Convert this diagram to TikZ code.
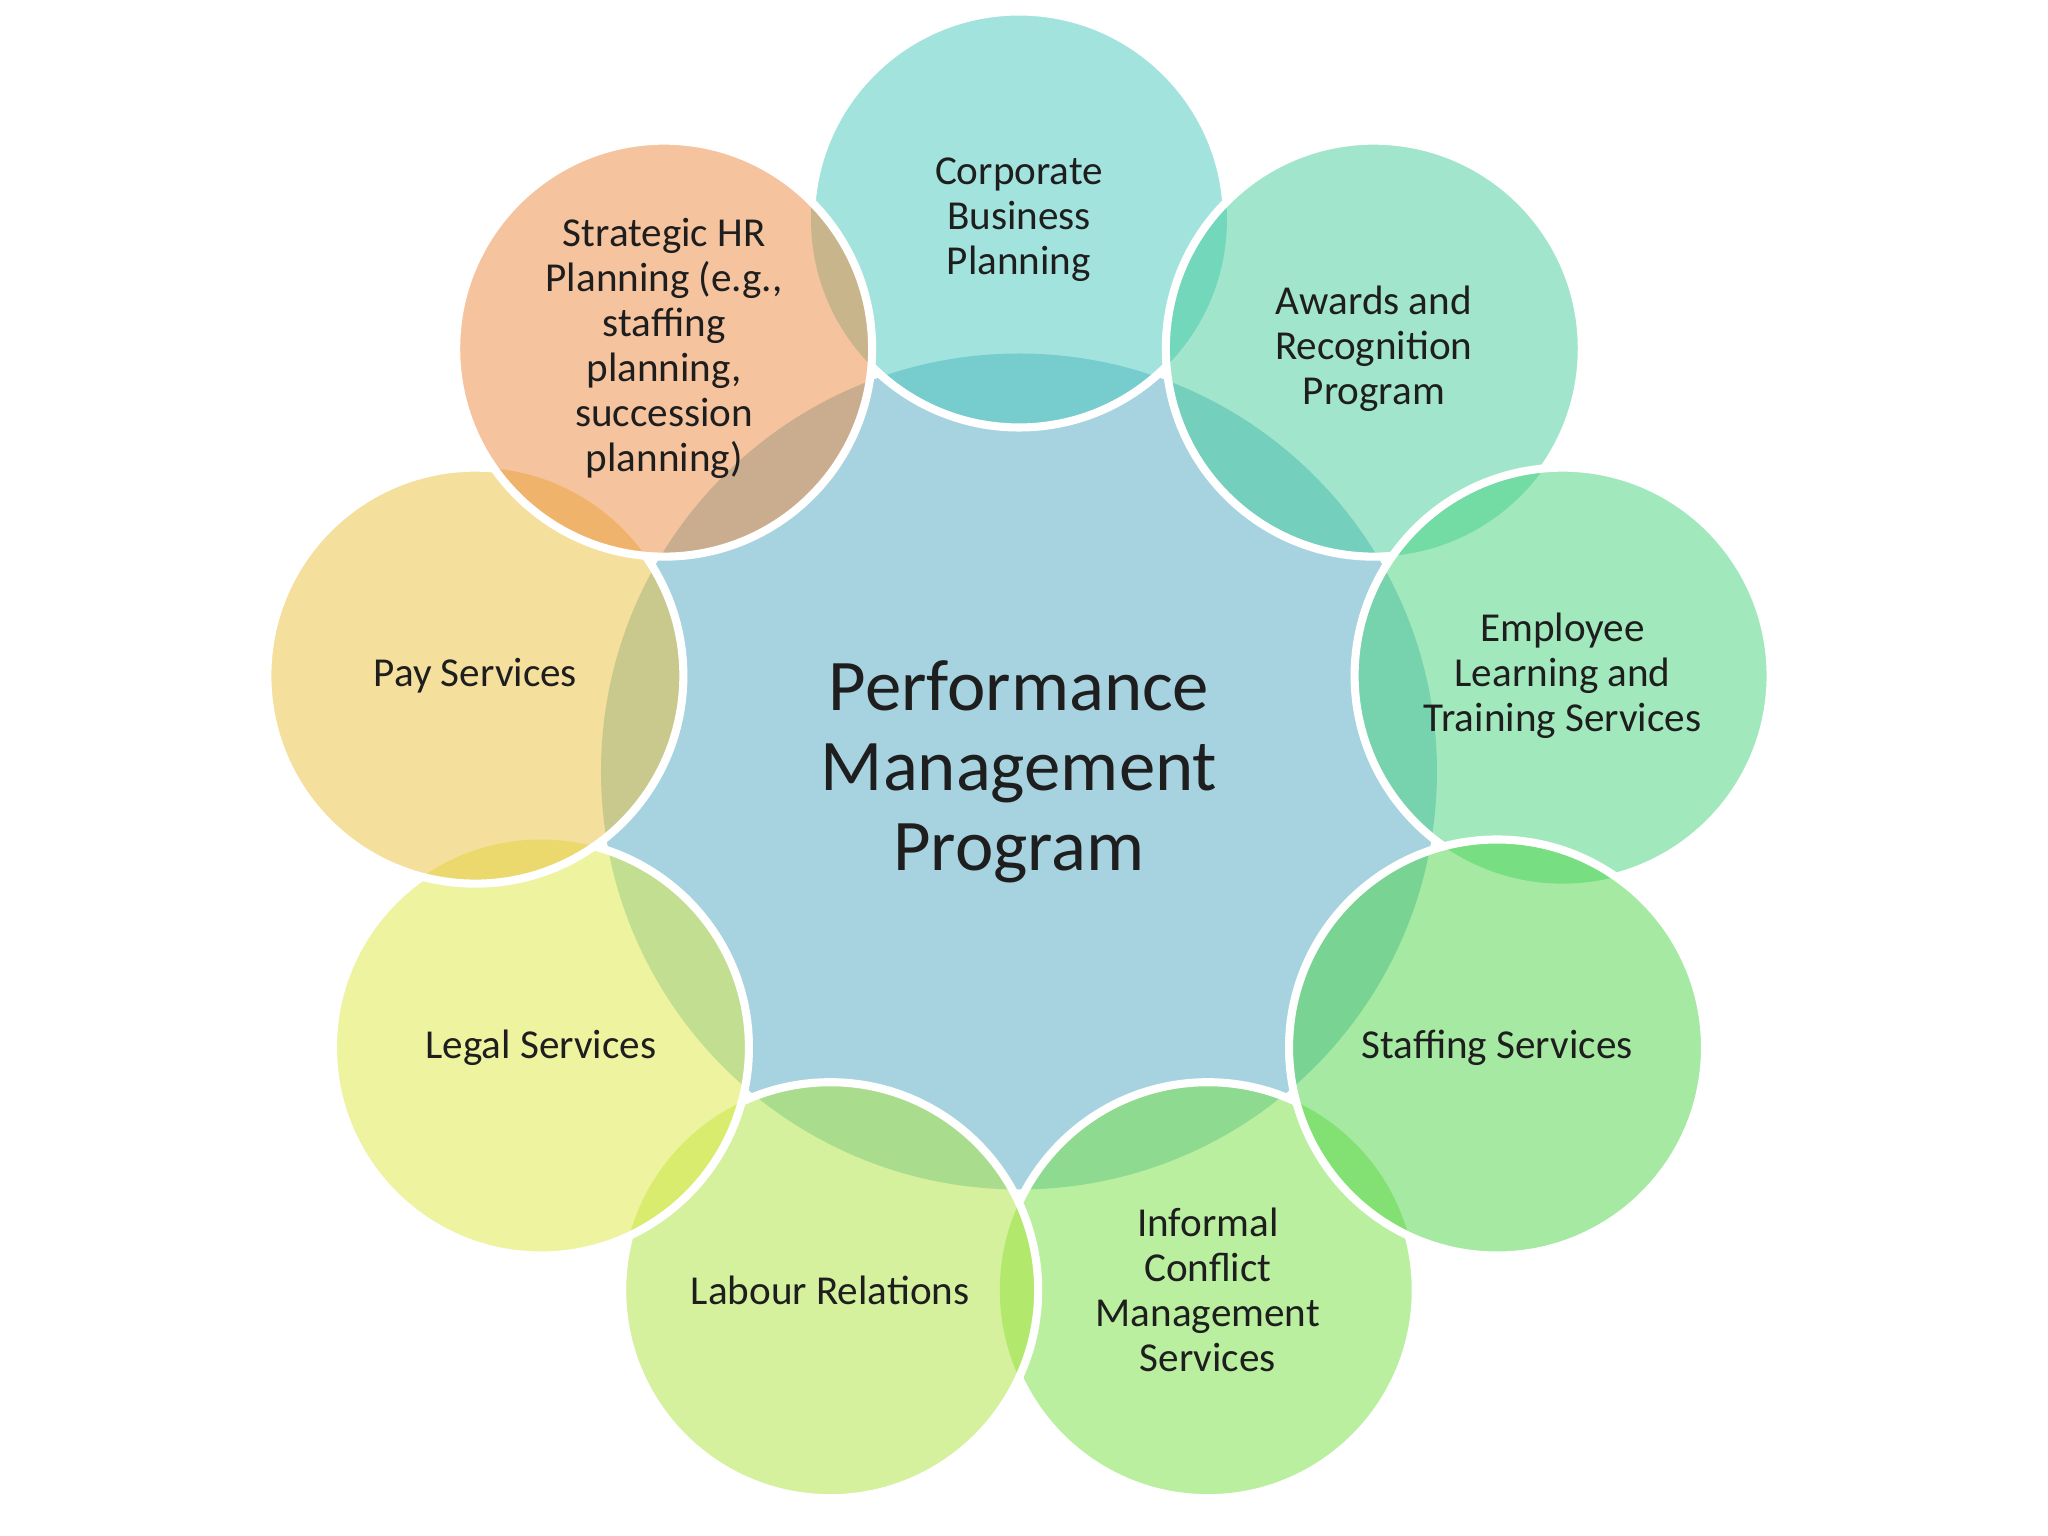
\documentclass[tikz,border=0pt]{standalone}
\usepackage{fontspec}
\setmainfont{Carlito}
\definecolor{pmblue}{RGB}{81,169,197}
\definecolor{cbpteal}{RGB}{73,201,189}
\definecolor{arpteal}{RGB}{69,205,155}
\definecolor{eltgreen}{RGB}{71,211,125}
\definecolor{stfgreen}{RGB}{77,213,71}
\definecolor{icmgreen}{RGB}{117,225,65}
\definecolor{labgreen}{RGB}{173,229,61}
\definecolor{legyellow}{RGB}{221,233,65}
\definecolor{payyellow}{RGB}{235,193,61}
\definecolor{shrorange}{RGB}{237,137,61}
\definecolor{labeltext}{RGB}{30,30,30}

\begin{document}
\begin{tikzpicture}[bubble/.style={align=center,text=labeltext,font=\fontsize{11.7}{12.8}\selectfont},
  hub/.style={align=center,text=labeltext,font=\fontsize{20.7}{22.8}\selectfont},
  rim/.style={white,line width=2.3pt}]
  \useasboundingbox[fill=white] (-10.19,-7.645) rectangle (10.29,7.715);
  % centre disc, then the ring from the lowest to the top layer
  \fill[pmblue,fill opacity=.5] (0,0) circle (4.18);
  \def\layers{0/0/4.18/pmblue}
  \foreach \ang/\col in {90/cbpteal,-70/icmgreen,50/arpteal,10/eltgreen,-30/stfgreen,
                         -110/labgreen,-150/legyellow,170/payyellow,130/shrorange}{
    \begin{scope}
      \clip (\ang:5.52) circle (2.08);
      \fill[white] (\ang:5.52) circle (2.1);
      \foreach \la/\ld/\lr/\lc in \layers {\fill[\lc,fill opacity=.5] (\la:\ld) circle (\lr);}
    \end{scope}
    \fill[\col,fill opacity=.5] (\ang:5.52) circle (2.08);
    \draw[rim] (\ang:5.52) circle (2.08);
    \xdef\layers{\layers,\ang/5.52/2.08/\col}
  }

  \node[hub] (pmp) at (0,0) {Performance\\Management\\Program};
  \node[bubble] (cbp) at (90:5.52) {Corporate\\Business\\Planning};
  \node[bubble] (arp) at (50:5.52) {Awards and\\Recognition\\Program};
  \node[bubble] (elt) at (10:5.52) {Employee\\Learning and\\Training Services};
  \node[bubble] (stf) at (-30:5.52) {Staffing Services};
  \node[bubble] (icm) at (-70:5.52) {Informal\\Conflict\\Management\\Services};
  \node[bubble] (lab) at (-110:5.52) {Labour Relations};
  \node[bubble] (leg) at (-150:5.52) {Legal Services};
  \node[bubble] (pay) at (170:5.52) {Pay Services};
  \node[bubble] (shr) at (130:5.52) {Strategic HR\\Planning (e.g.,\\staffing\\planning,\\succession\\planning)};
\end{tikzpicture}
\end{document}
